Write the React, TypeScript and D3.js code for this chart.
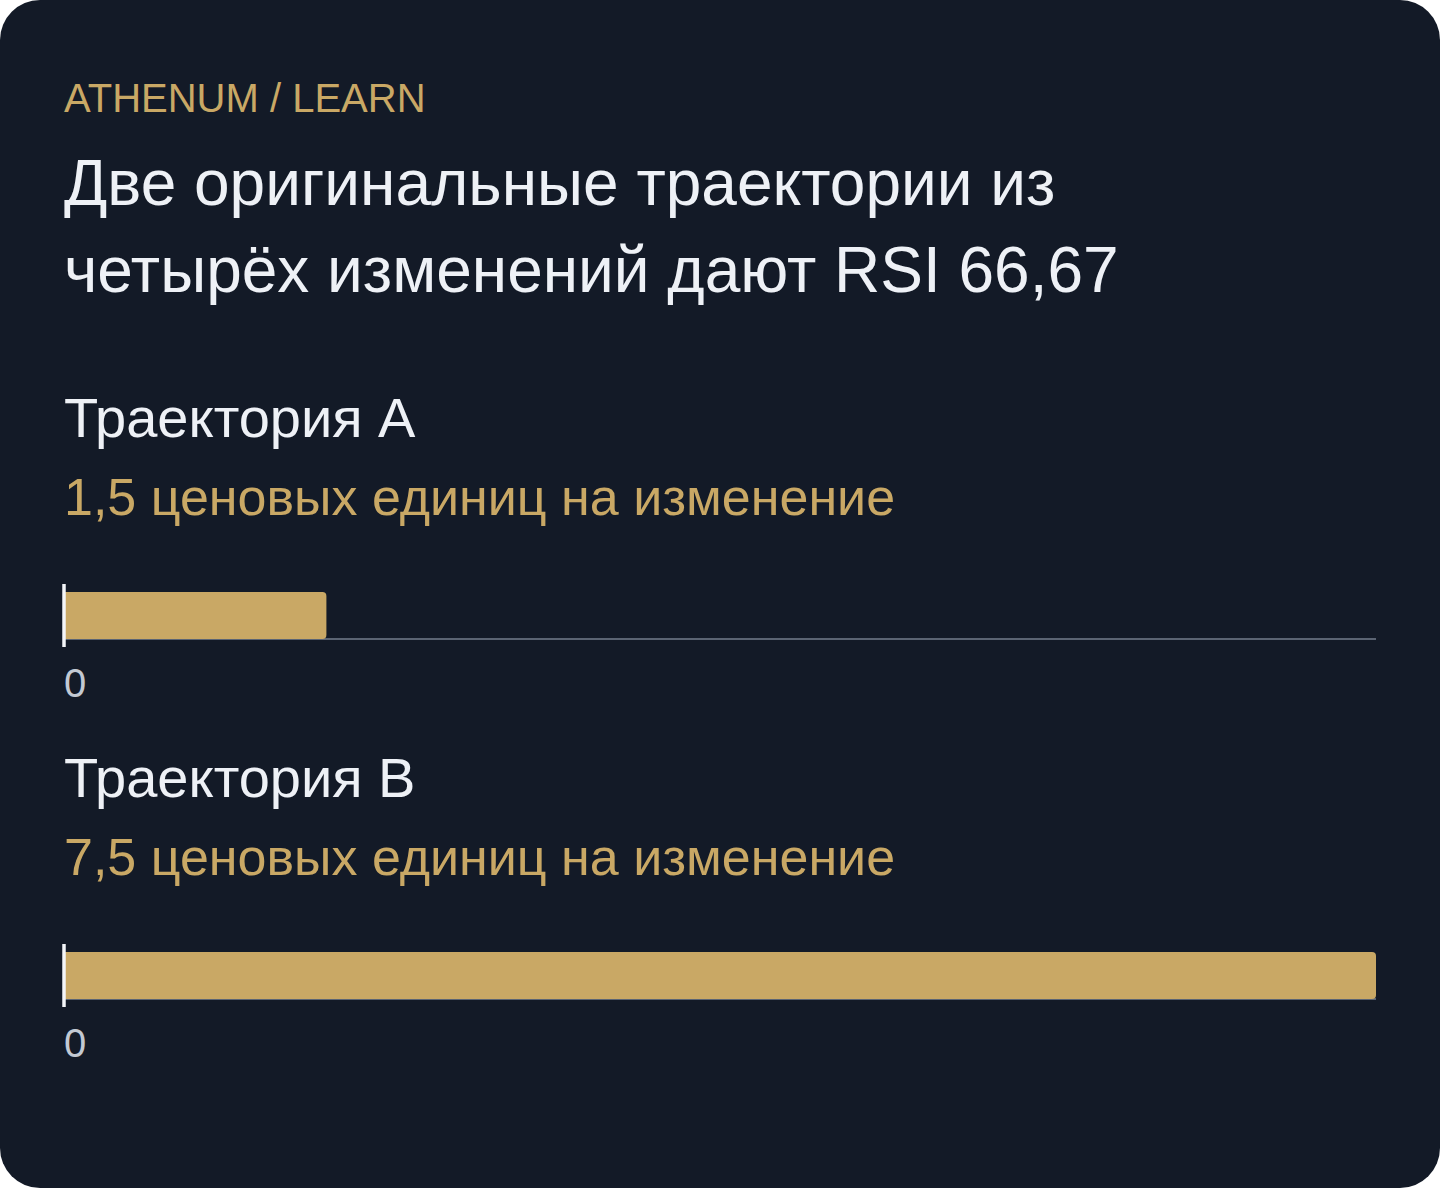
import React from "react";
import { scaleLinear, max } from "d3";

// chart data
const trajectoryNames = ["Траектория A", "Траектория B"];
const unitsPerChange = [1.5, 7.5];
const unitLabels = ["1,5 ценовых единиц на изменение", "7,5 ценовых единиц на изменение"];
const tickValues = [0];
const tickLabels = ["0"];

const eyebrow = "ATHENUM / LEARN";
const titleLines = ["Две оригинальные траектории из", "четырёх изменений дают RSI 66,67"];

const width = 1440;
const height = 1188;
const left = 64;
const right = 1376;
const FONT = "'Liberation Sans', Arial, Helvetica, sans-serif";
const BG = "#131a27";
const GOLD = "#c9a865";
const TEXT = "#eef1f6";

// bar with only the right-hand corners rounded
function rightRoundedBar(x0: number, x1: number, y0: number, y1: number, r: number) {
  const rr = Math.min(r, (x1 - x0) / 2, (y1 - y0) / 2);
  return [
    `M${x0},${y0}`,
    `H${x1 - rr}`,
    `Q${x1},${y0} ${x1},${y0 + rr}`,
    `V${y1 - rr}`,
    `Q${x1},${y1} ${x1 - rr},${y1}`,
    `H${x0}`,
    "Z",
  ].join(" ");
}

export default function App() {
  const xMax = max(unitsPerChange) ?? 1;
  const x = scaleLinear().domain([0, xMax]).range([left, right]);

  const panelTop = 437; // baseline of first panel heading
  const panelStep = 360;

  return (
    <div style={{ position: "absolute", top: 0, left: 0, background: "#ffffff" }}>
      <svg width={width} height={height} style={{ display: "block" }} fontFamily={FONT}>
        <rect x={0} y={0} width={width} height={height} rx={40} ry={40} fill={BG} />

        <text x={left} y={112} fontSize={40} fill={GOLD}>
          {eyebrow}
        </text>
        {titleLines.map((line, i) => (
          <text key={i} x={left} y={205 + i * 87} fontSize={64} fill={TEXT}>
            {line}
          </text>
        ))}

        {trajectoryNames.map((name, i) => {
          const base = panelTop + i * panelStep;
          const barTop = base + 155;
          const barBottom = base + 202;
          return (
            <g key={name}>
              <text x={left} y={base} fontSize={56} fill={TEXT}>
                {name}
              </text>
              <text x={left} y={base + 78} fontSize={52} fill={GOLD}>
                {unitLabels[i]}
              </text>

              <line
                x1={x(0)}
                x2={x(xMax)}
                y1={barBottom}
                y2={barBottom}
                stroke="#5b6473"
                strokeWidth={2}
              />
              <path
                d={rightRoundedBar(x(0), x(unitsPerChange[i]), barTop, barBottom, 4)}
                fill={GOLD}
              />
              <line
                x1={x(0)}
                x2={x(0)}
                y1={barTop - 8}
                y2={barBottom + 8}
                stroke="#f3f5f8"
                strokeWidth={3.5}
              />

              {tickValues.map((t, j) => (
                <text
                  key={j}
                  x={x(t)}
                  y={base + 260}
                  fontSize={40}
                  fill="#c3c9d3"
                >
                  {tickLabels[j]}
                </text>
              ))}
            </g>
          );
        })}
      </svg>
    </div>
  );
}
